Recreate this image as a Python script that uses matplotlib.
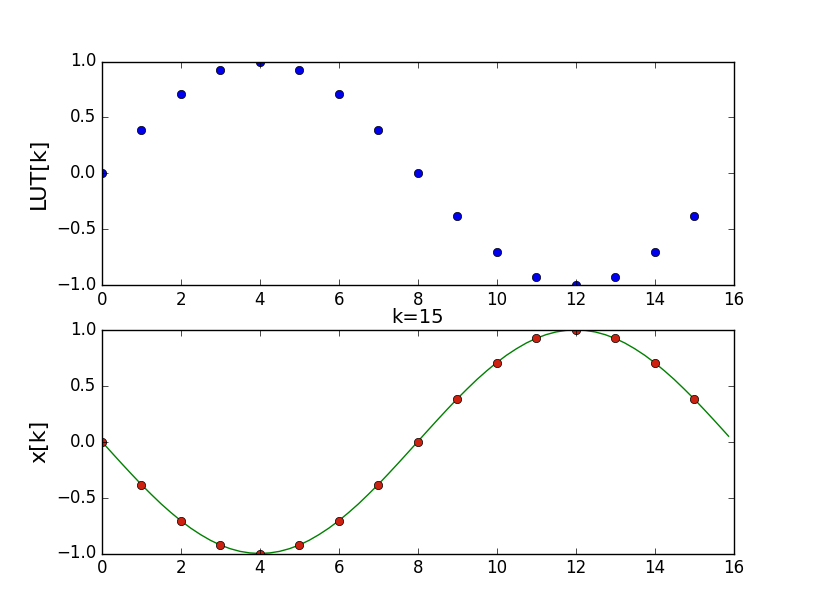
import matplotlib
matplotlib.use("Agg")
import matplotlib.pyplot as plt

plt.style.use('classic')

# lookup table samples
k = list(range(16))
lut = [0.0, 0.383, 0.707, 0.924, 1.0, 0.924, 0.707, 0.383,
       0.0, -0.383, -0.707, -0.924, -1.0, -0.924, -0.707, -0.383]

# output samples
xk = [0.0, -0.383, -0.707, -0.924, -1.0, -0.924, -0.707, -0.383,
      0.0, 0.383, 0.707, 0.924, 1.0, 0.924, 0.707, 0.383]

# continuous curve, every quarter step
t = [i * 0.25 for i in range(64)] + [15.875]
curve = [0.0, -0.098, -0.195, -0.290, -0.383, -0.471, -0.556, -0.634,
         -0.707, -0.773, -0.831, -0.882, -0.924, -0.957, -0.981, -0.995,
         -1.0, -0.995, -0.981, -0.957, -0.924, -0.882, -0.831, -0.773,
         -0.707, -0.634, -0.556, -0.471, -0.383, -0.290, -0.195, -0.098,
         0.0, 0.098, 0.195, 0.290, 0.383, 0.471, 0.556, 0.634,
         0.707, 0.773, 0.831, 0.882, 0.924, 0.957, 0.981, 0.995,
         1.0, 0.995, 0.981, 0.957, 0.924, 0.882, 0.831, 0.773,
         0.707, 0.634, 0.556, 0.471, 0.383, 0.290, 0.195, 0.098,
         0.049]

fig = plt.figure(figsize=(8.15, 6.15), dpi=100, facecolor='white')

ax1 = fig.add_subplot(211)
ax1.plot(k, lut, 'o', color='#0000ee', markeredgecolor='black', markersize=6)
ax1.set_xlim(0, 16)
ax1.set_ylim(-1, 1)
ax1.set_ylabel('LUT[k]', fontsize=16)

ax2 = fig.add_subplot(212)
ax2.plot(t, curve, '-', color='green')
ax2.plot(k, xk, 'o', color='#cc2211', markeredgecolor='black', markersize=6)
ax2.set_xlim(0, 16)
ax2.set_ylim(-1, 1)
ax2.set_ylabel('x[k]', fontsize=16)
ax2.set_title('k=15', fontsize=14)

fig.savefig('out.png', dpi=100, facecolor='white')
